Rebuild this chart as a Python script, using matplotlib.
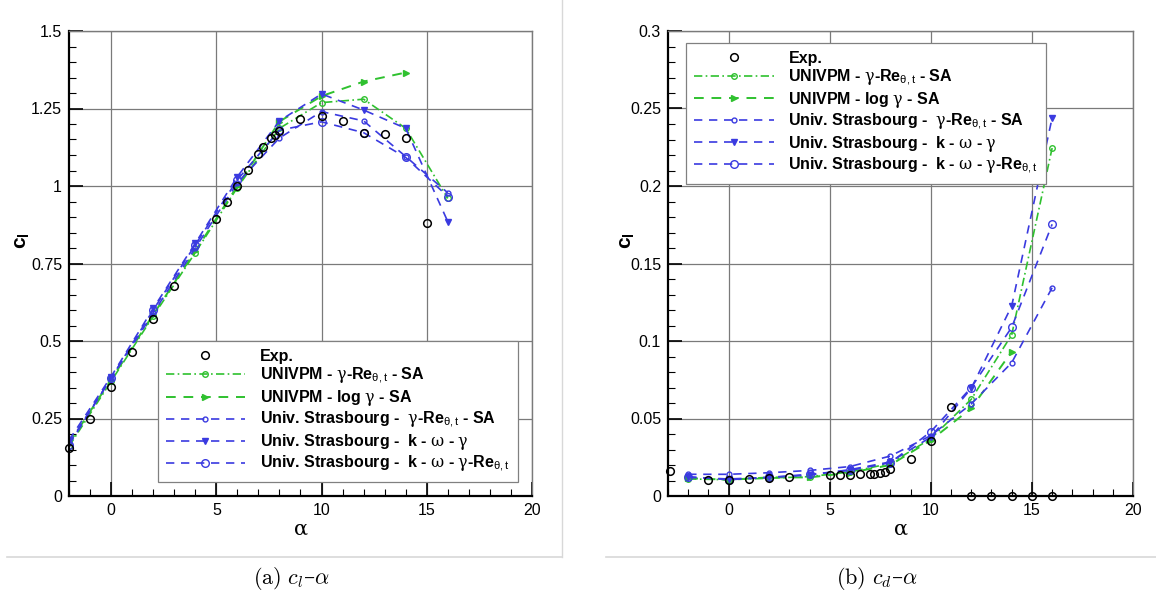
import matplotlib
matplotlib.use("Agg")
import matplotlib.pyplot as plt
from matplotlib.lines import Line2D
from matplotlib.ticker import MultipleLocator, FormatStrFormatter

plt.rcParams['font.family'] = ['Liberation Sans', 'DejaVu Sans']
plt.rcParams['mathtext.fontset'] = 'custom'
plt.rcParams['mathtext.rm'] = 'Liberation Sans'
plt.rcParams['mathtext.it'] = 'Liberation Sans:italic'
plt.rcParams['mathtext.bf'] = 'Liberation Sans:bold'
plt.rcParams['mathtext.sf'] = 'DejaVu Serif'

# ---- data ----
labels = [
    'Exp.',
    r'UNIVPM - $\mathsf{\gamma}$-Re$_{\mathrm{θ,t}}$ - SA',
    r'UNIVPM - log $\mathsf{\gamma}$ - SA',
    r'Univ. Strasbourg -  $\mathsf{\gamma}$-Re$_{\mathrm{θ,t}}$ - SA',
    r'Univ. Strasbourg -  k - $\mathsf{\omega}$ - $\mathsf{\gamma}$',
    r'Univ. Strasbourg -  k - $\mathsf{\omega}$ - $\mathsf{\gamma}$-Re$_{\mathrm{θ,t}}$',
]

alpha_cfd = [-2, 0, 2, 4, 6, 8, 10, 12, 14, 16]
alpha_log = [-2, 0, 2, 4, 6, 8, 10, 12, 14]

# lift
alpha_exp_cl = [-2, -1, 0, 1, 2, 3, 5, 5.5, 6, 6.5, 7, 7.2, 7.6, 7.8, 8, 9, 10, 11, 12, 13, 14, 15]
cl_exp = [0.155, 0.25, 0.352, 0.465, 0.572, 0.677, 0.894, 0.947, 1.0, 1.052, 1.103, 1.127,
          1.154, 1.165, 1.177, 1.215, 1.227, 1.211, 1.172, 1.168, 1.155, 0.881]
cl_univpm_gre = [0.16, 0.37, 0.58, 0.785, 0.995, 1.186, 1.269, 1.28, 1.186, 0.96]
cl_univpm_log = [0.17, 0.375, 0.585, 0.79, 1.0, 1.208, 1.29, 1.337, 1.366]
cl_stras_gre = [0.17, 0.38, 0.59, 0.80, 1.01, 1.155, 1.24, 1.21, 1.095, 0.978]
cl_stras_kwg = [0.18, 0.385, 0.605, 0.815, 1.03, 1.21, 1.297, 1.245, 1.186, 0.885]
cl_stras_kwgre = [0.165, 0.38, 0.60, 0.81, 1.02, 1.18, 1.207, 1.172, 1.092, 0.966]

# drag
alpha_exp_cd = [-2.9, -1, 0, 1, 2, 3, 5, 5.5, 6, 6.5, 7, 7.2, 7.5, 7.75, 8, 9, 10, 11,
                12, 13, 14, 15, 16]
cd_exp = [0.0163, 0.0101, 0.0105, 0.011, 0.0113, 0.012, 0.0135, 0.0138, 0.0135, 0.014,
          0.0142, 0.0142, 0.0148, 0.0157, 0.0172, 0.024, 0.0355, 0.0572, 0, 0, 0, 0, 0]
cd_univpm_gre = [0.011, 0.0105, 0.0115, 0.0125, 0.0155, 0.021, 0.037, 0.0624, 0.104, 0.2245]
cd_univpm_log = [0.0115, 0.0105, 0.012, 0.012, 0.015, 0.020, 0.036, 0.0566, 0.0931]
cd_stras_gre = [0.014, 0.014, 0.015, 0.0165, 0.019, 0.0258, 0.039, 0.0594, 0.086, 0.1344]
cd_stras_kwg = [0.012, 0.011, 0.012, 0.0135, 0.017, 0.022, 0.038, 0.0695, 0.1226, 0.244]
cd_stras_kwgre = [0.0125, 0.0105, 0.012, 0.014, 0.0165, 0.0215, 0.0415, 0.070, 0.1088, 0.1753]

GREEN = '#2fc12f'
BLUE = '#3a3ae0'
GRIDC = '#7a7a7a'

W, H = 1156, 601
fig = plt.figure(figsize=(W / 100, H / 100), dpi=100)


def px_axes(x0, y0, x1, y1):
    return fig.add_axes([x0 / W, 1 - y1 / H, (x1 - x0) / W, (y1 - y0) / H])


def draw_panel(ax, a_exp, v_exp, series, xlim, ylim, ymaj, ymin):
    ax.plot(a_exp, v_exp, 'o', mfc='none', mec='black', ms=5.5, mew=1.1,
            label=labels[0], clip_on=False, zorder=5)
    (v1, v2, v3, v4, v5) = series
    ax.plot(alpha_cfd, v1, color=GREEN, ls=(0, (5, 2, 1, 2)), lw=1.2, marker='o',
            ms=4, mfc='none', mew=1.0, label=labels[1])
    ax.plot(alpha_log, v2, color=GREEN, ls=(0, (5, 4)), lw=1.4, marker='>',
            ms=4.5, mew=1.0, label=labels[2])
    ax.plot(alpha_cfd, v3, color=BLUE, ls=(0, (5, 4)), lw=1.2, marker='o',
            ms=3.5, mfc='none', mew=1.0, label=labels[3])
    ax.plot(alpha_cfd, v4, color=BLUE, ls=(0, (5, 4)), lw=1.2, marker='v',
            ms=4.5, mew=1.0, label=labels[4])
    ax.plot(alpha_cfd, v5, color=BLUE, ls=(0, (5, 4)), lw=1.2, marker='o',
            ms=5.5, mfc='none', mew=1.0, label=labels[5])

    ax.set_xlim(*xlim)
    ax.set_ylim(*ylim)
    ax.xaxis.set_major_locator(MultipleLocator(5))
    ax.xaxis.set_minor_locator(MultipleLocator(1))
    ax.yaxis.set_major_locator(MultipleLocator(ymaj))
    ax.yaxis.set_minor_locator(MultipleLocator(ymin))
    ax.yaxis.set_major_formatter(FormatStrFormatter('%g'))
    ax.grid(True, which='major', color=GRIDC, lw=0.9)
    ax.tick_params(which='both', direction='in', top=False, right=False,
                   labelsize=11.5, color='black')
    ax.tick_params(which='major', length=10, width=1.2, pad=5)
    ax.tick_params(which='minor', length=5, width=0.8)
    for s in ('left', 'bottom'):
        ax.spines[s].set_linewidth(1.6)
        ax.spines[s].set_color('black')
    for s in ('top', 'right'):
        ax.spines[s].set_linewidth(1.0)
        ax.spines[s].set_color(GRIDC)
    ax.set_xlabel(r'$\mathsf{\alpha}$', fontsize=15, labelpad=1)
    ax.set_ylabel(r'$\mathbf{c}_\mathbf{l}$', fontsize=15)
    ax.set_axisbelow(True)


def add_legend(ax, **kw):
    leg = ax.legend(fancybox=False, edgecolor='#808080', framealpha=1,
                    handlelength=5.0, handletextpad=0.9, labelspacing=0.12,
                    borderpad=0.5, prop={'weight': 'bold', 'size': 11.5}, **kw)
    leg.get_frame().set_linewidth(0.9)
    return leg


ax1 = px_axes(69, 31, 532, 496)
draw_panel(ax1, alpha_exp_cl, cl_exp,
           (cl_univpm_gre, cl_univpm_log, cl_stras_gre, cl_stras_kwg, cl_stras_kwgre),
           (-2, 20), (0, 1.5), 0.25, 0.05)
ax1.yaxis.set_label_coords(-0.08, 0.55)
add_legend(ax1, loc='lower right', bbox_to_anchor=(0.986, 0.012))

ax2 = px_axes(668, 31, 1133, 496)
draw_panel(ax2, alpha_exp_cd, cd_exp,
           (cd_univpm_gre, cd_univpm_log, cd_stras_gre, cd_stras_kwg, cd_stras_kwgre),
           (-3, 20), (0, 0.3), 0.05, 0.01)
ax2.yaxis.set_label_coords(-0.067, 0.55)
add_legend(ax2, loc='upper left', bbox_to_anchor=(0.022, 0.992))

# light panel frames
lc = '#d8d8d8'
fig.add_artist(Line2D([562 / W, 562 / W], [1, 1 - 557 / H], transform=fig.transFigure, color=lc, lw=1))
fig.add_artist(Line2D([7 / W, 562 / W], [1 - 557 / H] * 2, transform=fig.transFigure, color=lc, lw=1.2))
fig.add_artist(Line2D([606 / W, 1156 / W], [1 - 557 / H] * 2, transform=fig.transFigure, color=lc, lw=1.2))

# captions
fig.text(292 / W, 1 - 578 / H, r'$\mathrm{(a)}\ c_l$–$\alpha$', ha='center', va='center',
         fontsize=16, family='DejaVu Serif', math_fontfamily='cm')
fig.text(877 / W, 1 - 578 / H, r'$\mathrm{(b)}\ c_d$–$\alpha$', ha='center', va='center',
         fontsize=16, family='DejaVu Serif', math_fontfamily='cm')

fig.savefig('out.png', dpi=100)
